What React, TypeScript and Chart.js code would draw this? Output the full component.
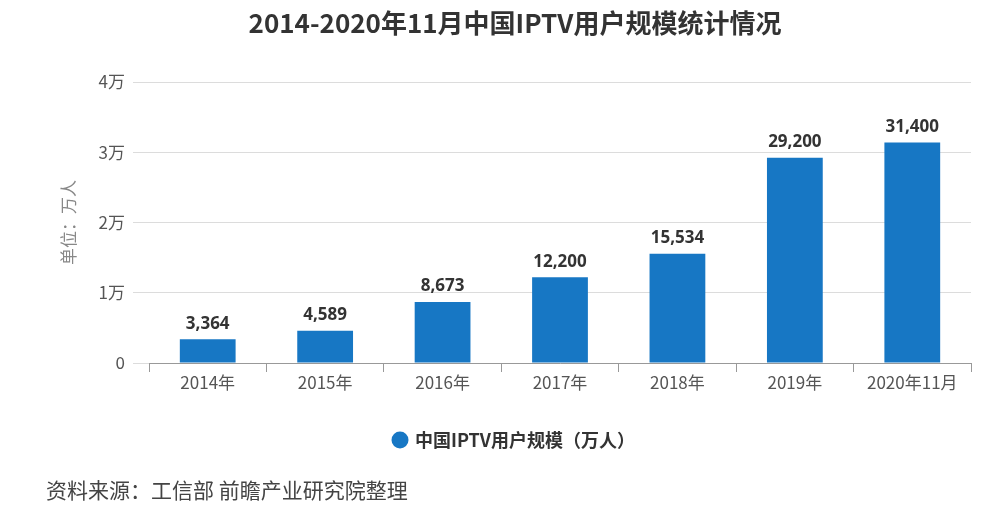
import React, { useEffect, useRef } from "react";
import { Chart, registerables } from "chart.js";

Chart.register(...registerables);

const years = ["2014年", "2015年", "2016年", "2017年", "2018年", "2019年", "2020年11月"];
const users = [3364, 4589, 8673, 12200, 15534, 29200, 31400];
const seriesName = "中国IPTV用户规模（万人）";
const chartTitle = "2014-2020年11月中国IPTV用户规模统计情况";
const sourceNote = "资料来源：工信部 前瞻产业研究院整理";
const yAxisTitle = "单位：万人";

const BAR_COLOR = "#1777c4";
const CJK = '"Noto Sans CJK SC", "Noto Sans", sans-serif';

const annotations = {
  id: "annotations",
  afterDatasetsDraw(chart: any) {
    const { ctx } = chart;
    const meta = chart.getDatasetMeta(0);
    ctx.save();
    // value labels above each bar
    ctx.fillStyle = "#333333";
    ctx.font = 'bold 17px "Open Sans", sans-serif';
    ctx.textAlign = "center";
    ctx.textBaseline = "bottom";
    meta.data.forEach((bar: any, i: number) => {
      ctx.fillText(users[i].toLocaleString("en-US"), bar.x, bar.y - 7);
    });
    // title
    ctx.font = `bold 26px ${CJK}`;
    ctx.fillStyle = "#333333";
    ctx.textBaseline = "middle";
    ctx.fillText(chartTitle, 515, 23);
    // source note
    ctx.font = `21px ${CJK}`;
    ctx.fillStyle = "#444444";
    ctx.textAlign = "left";
    ctx.fillText(sourceNote, 46, 490);
    ctx.restore();
  },
};

export default function App() {
  const canvasRef = useRef<HTMLCanvasElement | null>(null);

  useEffect(() => {
    document.body.style.margin = "0";
    document.body.style.background = "#ffffff";
    const canvas = canvasRef.current;
    if (!canvas) return;
    const chart = new Chart(canvas, {
      type: "bar",
      data: {
        labels: years,
        datasets: [
          {
            label: seriesName,
            data: users,
            backgroundColor: BAR_COLOR,
            borderWidth: 0,
            barPercentage: 0.95,
            categoryPercentage: 0.5,
          },
        ],
      },
      options: {
        responsive: false,
        animation: false,
        layout: { padding: { top: 82, right: 0, bottom: 58, left: 29 } },
        plugins: {
          title: { display: false },
          tooltip: { enabled: false },
          legend: {
            display: true,
            position: "bottom",
            labels: {
              usePointStyle: true,
              pointStyle: "circle",
              boxWidth: 12,
              boxHeight: 12,
              padding: 10,
              color: "#333333",
              font: { family: CJK, size: 18, weight: "bold" },
            },
          },
        },
        scales: {
          x: {
            grid: {
              display: true,
              drawOnChartArea: false,
              drawTicks: true,
              tickLength: 9,
              color: "#999999",
            },
            border: { display: true, color: "#999999", width: 1 },
            ticks: {
              color: "#555555",
              font: { family: CJK, size: 17 },
              padding: 0,
              maxRotation: 0,
              autoSkip: false,
            },
            afterFit(scale: any) {
              scale.height = 58;
            },
          },
          y: {
            min: 0,
            max: 40000,
            grid: {
              color: "#dcdcdc",
              drawTicks: true,
              tickLength: 16,
              lineWidth: 1,
            },
            border: { display: false },
            ticks: {
              stepSize: 10000,
              color: "#555555",
              font: { family: CJK, size: 17 },
              padding: 8,
              callback: (v: any) => (v === 0 ? "0" : `${v / 10000}万`),
            },
            title: {
              display: true,
              text: yAxisTitle,
              color: "#888888",
              font: { family: CJK, size: 17 },
              padding: { top: 29, bottom: 0 },
            },
            afterFit(scale: any) {
              scale.width = 120;
            },
          },
          // empty right-hand margin axis
          yRight: {
            position: "right",
            display: true,
            grid: { display: false },
            border: { display: false },
            ticks: { display: false },
            afterFit(scale: any) {
              scale.width = 29;
            },
          },
        },
      },
      plugins: [annotations],
    });
    return () => chart.destroy();
  }, []);

  return (
    <div style={{ width: 1000, height: 517 }}>
      <canvas ref={canvasRef} width={1000} height={517} />
    </div>
  );
}
